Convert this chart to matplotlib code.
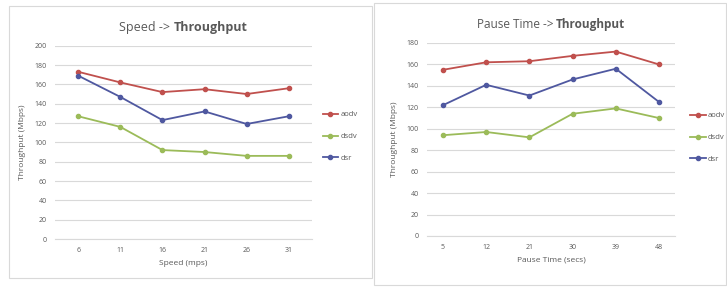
import matplotlib
matplotlib.use("Agg")
import matplotlib.pyplot as plt
from matplotlib.patches import Rectangle

plt.rcParams['font.family'] = ['Open Sans', 'DejaVu Sans']

# left chart: speed -> throughput
speed_labels = ['6', '11', '16', '21', '26', '31']
speed_aodv = [173, 162, 152, 155, 150, 156]
speed_dsdv = [127, 116, 92, 90, 86, 86]
speed_dsr = [169, 147, 123, 132, 119, 127]

# right chart: pause time -> throughput
pause_labels = ['5', '12', '21', '30', '39', '48']
pause_aodv = [155, 162, 163, 168, 172, 160]
pause_dsdv = [94, 97, 92, 114, 119, 110]
pause_dsr = [122, 141, 131, 146, 156, 125]

series_names = ['aodv', 'dsdv', 'dsr']
colors = ['#C0504D', '#9BBB59', '#4F58A0']
TXT = '#595959'
GRID = '#D9D9D9'

fig = plt.figure(figsize=(7.27, 2.89), dpi=100)
W, H = 727, 289


def box(x0, y0, x1, y1):
    fig.patches.append(Rectangle((x0 / W, 1 - y1 / H), (x1 - x0) / W, (y1 - y0) / H,
                                 transform=fig.transFigure, fill=False,
                                 edgecolor=GRID, lw=0.8))


def panel(rect, labels, data, ymax, xpad, title, xlabel, ylabel, leg_pos, tsize):
    ax = fig.add_axes(rect)
    x = list(range(len(labels)))
    for vals, name, c in zip(data, series_names, colors):
        ax.plot(x, vals, color=c, lw=1.3, marker='o', ms=3, label=name)
    ax.set_ylim(0, ymax)
    ax.set_yticks(range(0, ymax + 1, 20))
    ax.set_xlim(-xpad, len(labels) - 1 + xpad)
    ax.set_xticks(x)
    ax.set_xticklabels(labels)
    ax.grid(axis='y', color=GRID, lw=0.8)
    ax.set_axisbelow(True)
    for s in ['top', 'right', 'left']:
        ax.spines[s].set_visible(False)
    ax.spines['bottom'].set_color(GRID)
    ax.tick_params(length=0, labelsize=5, colors=TXT, pad=6)
    ax.set_xlabel(xlabel, fontsize=6, color=TXT, labelpad=4)
    ax.set_ylabel(ylabel, fontsize=6, color=TXT, labelpad=6)
    ax.legend(loc='center left', bbox_to_anchor=leg_pos, frameon=False,
              fontsize=5.5, labelcolor=TXT, handlelength=2.0, labelspacing=1.9,
              handletextpad=0.3, borderaxespad=0)
    # title: normal part + bold part
    t1 = ax.text(0.5, 1.06, title[0], transform=ax.transAxes, fontsize=tsize,
                 color=TXT, ha='right', va='bottom')
    t2 = ax.text(0.5, 1.06, title[1], transform=ax.transAxes, fontsize=tsize,
                 color=TXT, ha='left', va='bottom', fontweight='bold')
    fig.canvas.draw()
    r = fig.canvas.get_renderer()
    w1 = t1.get_window_extent(r).width
    w2 = t2.get_window_extent(r).width
    axw = ax.get_window_extent(r).width
    shift = (w1 - w2) / 2 / axw
    t1.set_x(0.5 + shift)
    t2.set_x(0.5 + shift)
    return ax


box(9, 6, 372, 278)
box(374, 3, 726, 285)

panel([55 / W, 1 - 239 / H, (312 - 55) / W, (239 - 45.7) / H],
      speed_labels, [speed_aodv, speed_dsdv, speed_dsr], 200, 0.55,
      ('Speed -> ', 'Throughput'), 'Speed (mps)', 'Throughput (Mbps)',
      (1.03, 0.53), 9)

panel([427 / W, 1 - 236 / H, (675 - 427) / W, (236 - 43) / H],
      pause_labels, [pause_aodv, pause_dsdv, pause_dsr], 180, 0.37,
      ('Pause Time -> ', 'Throughput'), 'Pause Time (secs)', 'Throughput (Mbps)',
      (1.05, 0.51), 8.5)

fig.savefig('out.png', dpi=100)
